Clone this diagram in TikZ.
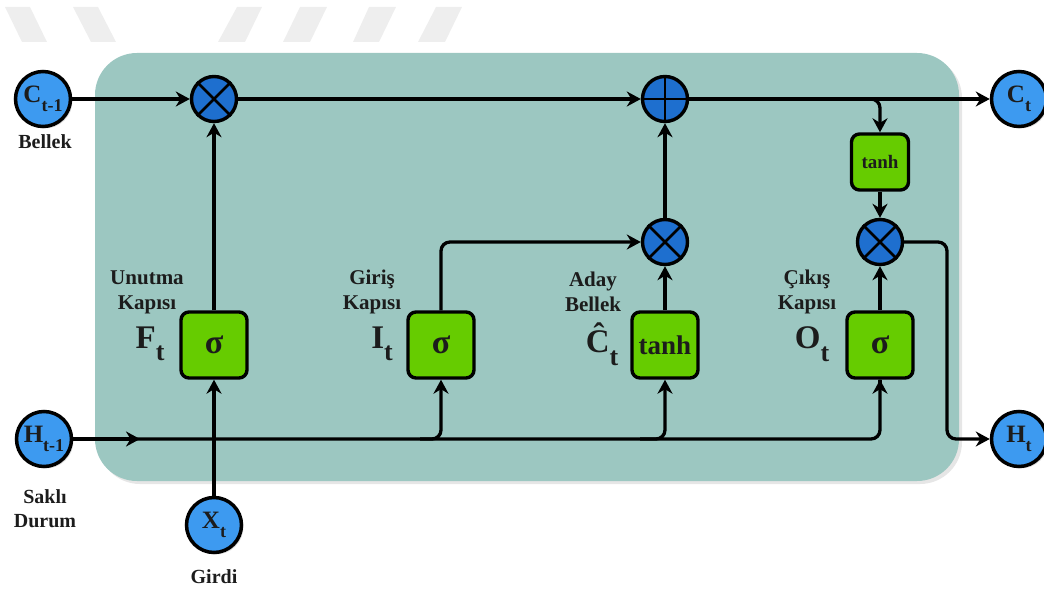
\documentclass[tikz,border=0pt]{standalone}
\usepackage{fontspec}
\setmainfont{Liberation Serif}
\usetikzlibrary{arrows.meta,shadows}
\definecolor{panel}{HTML}{9CC7C1}
\definecolor{cblue}{HTML}{3D9AF0}
\definecolor{oblue}{HTML}{1E6FCF}
\definecolor{gbox}{HTML}{66CC00}
\definecolor{txt}{HTML}{1C1C1C}
\definecolor{wm}{HTML}{EEEEEE}
\newcommand{\lsub}[2]{\raisebox{-0.38em}{\fontsize{#1}{#1}\selectfont #2}}
\tikzset{
  io/.style={circle,draw=black,line width=3.5pt,fill=cblue,minimum size=55pt,inner sep=0pt,
    font=\fontsize{25}{25}\selectfont\bfseries,text=txt,drop shadow={opacity=0.25,shadow xshift=2pt,shadow yshift=-2pt}},
  op/.style={circle,draw=black,line width=3.4pt,fill=oblue,minimum size=45pt,inner sep=0pt},
  gate/.style={rectangle,rounded corners=8pt,draw=black,line width=3.4pt,fill=gbox,minimum width=66pt,minimum height=66pt,
    inner sep=0pt,font=\fontsize{34}{34}\selectfont\bfseries,text=txt},
  sgate/.style={gate,minimum width=57pt,minimum height=56pt,font=\fontsize{19}{19}\selectfont\bfseries},
  lbl/.style={font=\fontsize{20}{24}\selectfont\bfseries,text=txt,align=center},
  glbl/.style={font=\fontsize{21}{25}\selectfont\bfseries,text=txt,align=center},
  big/.style={font=\fontsize{33}{33}\selectfont\bfseries,text=txt},
  con/.style={draw=black,line width=3.3pt},
  arr/.style={con,-{Stealth[length=14pt,width=15pt]}},
}
\begin{document}
\begin{tikzpicture}[x=1pt,y=-1pt]
\useasboundingbox (0,0) rectangle (1044,591);
% watermark
\fill[wm] (5,7) -- (30,7) -- (47,42) -- (22,42) -- cycle;
\fill[wm] (73,7) -- (98,7) -- (116,42) -- (91,42) -- cycle;
\fill[wm] (237,7) -- (262,7) -- (245,42) -- (218,42) -- cycle;
\fill[wm] (300,7) -- (327,7) -- (310,42) -- (283,42) -- cycle;
\fill[wm] (369,7) -- (396,7) -- (379,42) -- (353,42) -- cycle;
\fill[wm] (436,7) -- (462,7) -- (445,42) -- (418,42) -- cycle;
% panel
\fill[panel,rounded corners=42pt,drop shadow={opacity=0.2,shadow xshift=3pt,shadow yshift=-3pt}] (95,53) rectangle (959,481);
% nodes
\node[io] (Cp) at (43,99) {C\lsub{18}{t-1}};
\node[io] (Ct) at (1019,99) {C\lsub{18}{t}};
\node[io] (Hp) at (44,439) {H\lsub{18}{t-1}};
\node[io] (Ht) at (1019,439) {H\lsub{18}{t}};
\node[io] (Xt) at (214,525) {X\lsub{18}{t}};
\node[lbl] (lBel) at (45,142) {Bellek};
\node[lbl] (lSak) at (45,509) {Saklı\\Durum};
\node[lbl] (lGir) at (214,577) {Girdi};
\node[op] (m1) at (214,99) {};
\node[op] (pl) at (665,99) {};
\node[op] (mC) at (665,242) {};
\node[op] (mO) at (880,242) {};
\foreach \n in {m1,mC,mO}{
  \draw[line width=2.8pt] (\n.45) -- (\n.225);
  \draw[line width=2.8pt] (\n.135) -- (\n.-45);
}
\draw[line width=2.8pt] (pl.north) -- (pl.south);
\draw[line width=2.8pt] (pl.east) -- (pl.west);
\node[gate] (Fs) at (214,345) {σ};
\node[gate] (Is) at (441,345) {σ};
\node[gate,font=\fontsize{27}{27}\selectfont\bfseries] (Cs) at (665,345) {tanh};
\node[gate] (Os) at (880,345) {σ};
\node[sgate] (Ts) at (880,162) {tanh};
% gate labels
\node[glbl] (lF) at (147,292) {Unutma\\Kapısı};
\node[glbl] (lI) at (372,292) {Giriş\\Kapısı};
\node[glbl] (lC) at (593,292) {Aday\\Bellek};
\node[glbl] (lO) at (807,292) {Çıkış\\Kapısı};
\node[big] (bF) at (150,344) {F\lsub{26}{t}};
\node[big] (bI) at (382,344) {I\lsub{26}{t}};
\node[big] (bC) at (602,344) {Ĉ\lsub{26}{t}};
\node[big] (bO) at (812,344) {O\lsub{26}{t}};
% connectors
\coordinate (hmid) at (140,439);
\coordinate (hI) at (420,439);
\coordinate (hC) at (640,439);
\coordinate (cT) at (855,99);
\coordinate (kO) at (947,300);
\draw[arr] (Cp.east) -- (m1.west);
\draw[arr] (m1.east) -- (pl.west);
\draw[arr] (pl.east) -- (Ct.west);
\draw[arr,rounded corners=9pt] (cT) -| (Ts.north);
\draw[arr] (Ts.south) -- (mO.north);
\draw[arr] (Xt.north) -- (Fs.south);
\draw[arr] (Fs.north) -- (m1.south);
\draw[arr,rounded corners=9pt] (Is.north) |- (mC.west);
\draw[arr] (Cs.north) -- (mC.south);
\draw[arr] (mC.north) -- (pl.south);
\draw[arr] (Os.north) -- (mO.south);
\draw[con,rounded corners=9pt] (Hp.east) -| (Os.south);
\draw[arr] (Hp.east) -- (hmid);
\draw[arr,rounded corners=9pt] (hI) -| (Is.south);
\draw[arr,rounded corners=9pt] (hC) -| (Cs.south);
\draw[arr] (Os.south) ++(0,0.1) -- (Os.south);
\draw[arr,rounded corners=9pt] (mO.east) -| (kO) |- (Ht.west);
\end{tikzpicture}
\end{document}
